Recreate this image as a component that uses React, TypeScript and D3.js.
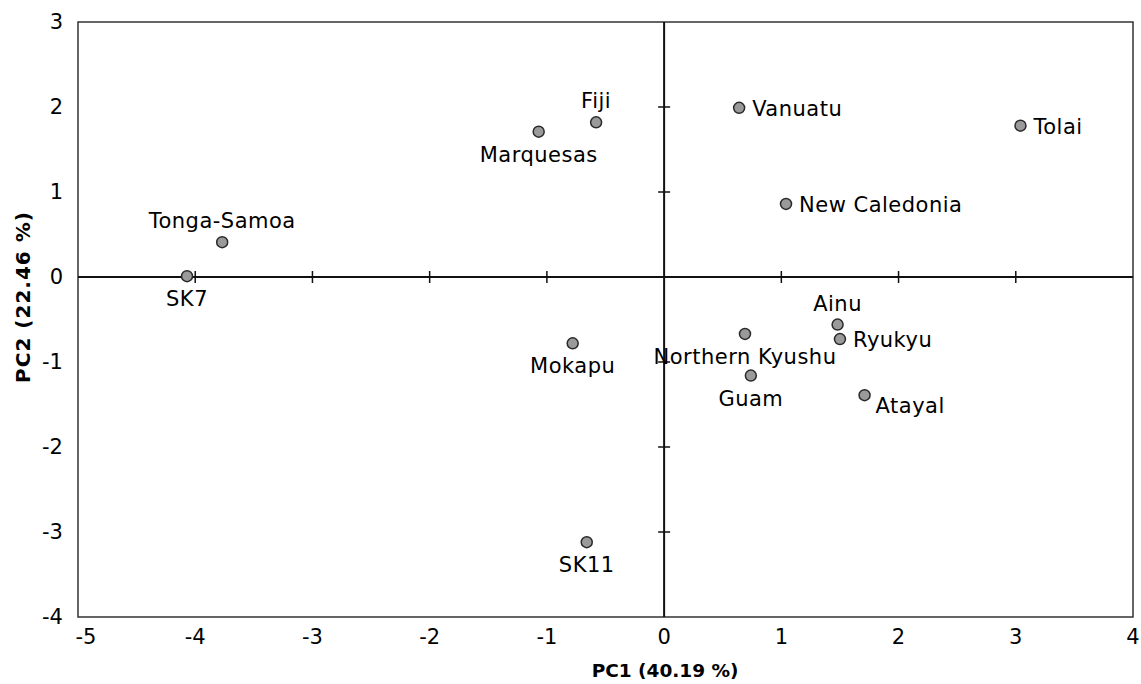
import React, { useRef, useEffect } from "react";
import * as d3 from "d3";

// PCA scores
const names = [
  "SK7", "Tonga-Samoa", "Marquesas", "Fiji", "Vanuatu", "Tolai",
  "New Caledonia", "Ainu", "Ryukyu", "Northern Kyushu", "Guam",
  "Atayal", "Mokapu", "SK11",
];
const pc1 = [-4.07, -3.77, -1.07, -0.58, 0.64, 3.04, 1.04, 1.48, 1.5, 0.69, 0.74, 1.71, -0.78, -0.66];
const pc2 = [0.01, 0.41, 1.71, 1.82, 1.99, 1.78, 0.86, -0.56, -0.73, -0.67, -1.16, -1.39, -0.78, -3.12];
// where each label sits relative to its point
const labelPos = [
  "below", "above", "below", "above", "right", "right",
  "right", "above", "right", "below", "below", "belowRight", "below", "below",
];
const xTicks = [-5, -4, -3, -2, -1, 0, 1, 2, 3, 4];
const yTicks = [-4, -3, -2, -1, 0, 1, 2, 3];

const App = () => {
  const svgRef = useRef<SVGSVGElement>(null);

  useEffect(() => {
    const svg = d3.select(svgRef.current);
    svg.selectAll("*").remove();

    const W = 1141, H = 684;
    const margin = { top: 22, right: 8, bottom: 67, left: 78 };
    const font = "'DejaVu Sans', Verdana, sans-serif";

    const x = d3.scaleLinear().domain([-5, 4]).range([margin.left, W - margin.right]);
    const y = d3.scaleLinear().domain([-4, 3]).range([H - margin.bottom, margin.top]);

    // frame
    svg.append("rect")
      .attr("x", x(-5)).attr("y", y(3))
      .attr("width", x(4) - x(-5)).attr("height", y(-4) - y(3))
      .attr("fill", "none").attr("stroke", "#333").attr("stroke-width", 1.5);

    // zero axes
    svg.append("line")
      .attr("x1", x(-5)).attr("x2", x(4)).attr("y1", y(0)).attr("y2", y(0))
      .attr("stroke", "#111").attr("stroke-width", 2);
    svg.append("line")
      .attr("x1", x(0)).attr("x2", x(0)).attr("y1", y(3)).attr("y2", y(-4))
      .attr("stroke", "#111").attr("stroke-width", 2);

    // cross ticks on the zero axes
    svg.append("g").selectAll("line")
      .data(xTicks.filter((d) => d > -5 && d < 4 && d !== 0))
      .join("line")
      .attr("x1", (d) => x(d)).attr("x2", (d) => x(d))
      .attr("y1", y(0) - 6).attr("y2", y(0) + 6)
      .attr("stroke", "#111").attr("stroke-width", 1.5);
    svg.append("g").selectAll("line")
      .data(yTicks.filter((d) => d > -4 && d < 3 && d !== 0))
      .join("line")
      .attr("x1", x(0) - 6).attr("x2", x(0) + 6)
      .attr("y1", (d) => y(d)).attr("y2", (d) => y(d))
      .attr("stroke", "#111").attr("stroke-width", 1.5);

    // tick labels
    svg.append("g").selectAll("text")
      .data(xTicks)
      .join("text")
      .attr("x", (d) => x(d) + (d === -5 ? 8 : 0)).attr("y", y(-4) + 27)
      .attr("text-anchor", "middle")
      .attr("font-family", font).attr("font-size", 21)
      .text((d) => String(d));
    svg.append("g").selectAll("text")
      .data(yTicks)
      .join("text")
      .attr("x", x(-5) - 15).attr("y", (d) => y(d) + 7)
      .attr("text-anchor", "end")
      .attr("font-family", font).attr("font-size", 21)
      .text((d) => String(d));

    // axis titles
    svg.append("text")
      .attr("x", x(0) + 1).attr("y", 677)
      .attr("text-anchor", "middle")
      .attr("font-family", font).attr("font-size", 18.5).attr("font-weight", "bold")
      .text("PC1 (40.19 %)");
    svg.append("text")
      .attr("transform", "translate(30,297) rotate(-90)")
      .attr("text-anchor", "middle")
      .attr("font-family", font).attr("font-size", 20).attr("font-weight", "bold")
      .attr("letter-spacing", 1)
      .text("PC2 (22.46 %)");

    const pts = names.map((n, i) => ({ name: n, px: pc1[i], py: pc2[i], pos: labelPos[i] }));

    // points
    svg.append("g").selectAll("circle")
      .data(pts)
      .join("circle")
      .attr("cx", (d) => x(d.px)).attr("cy", (d) => y(d.py))
      .attr("r", 5.5)
      .attr("fill", "#9a9a9a").attr("stroke", "#2a2a2a").attr("stroke-width", 1.5);

    // labels
    const dx = (p: string) => (p === "right" ? 13 : p === "belowRight" ? 11 : 0);
    const dy = (p: string) =>
      p === "above" ? -14 : p === "below" ? 30 : p === "belowRight" ? 18 : 8;
    svg.append("g").selectAll("text")
      .data(pts)
      .join("text")
      .attr("x", (d) => x(d.px) + dx(d.pos))
      .attr("y", (d) => y(d.py) + dy(d.pos))
      .attr("text-anchor", (d) => (d.pos === "above" || d.pos === "below" ? "middle" : "start"))
      .attr("font-family", font).attr("font-size", 21)
      .attr("letter-spacing", 0.5)
      .text((d) => d.name);
  }, []);

  return (
    <svg
      ref={svgRef}
      width={1141}
      height={684}
      style={{ position: "absolute", left: 0, top: 0, background: "#fff" }}
    />
  );
};

export default App;
